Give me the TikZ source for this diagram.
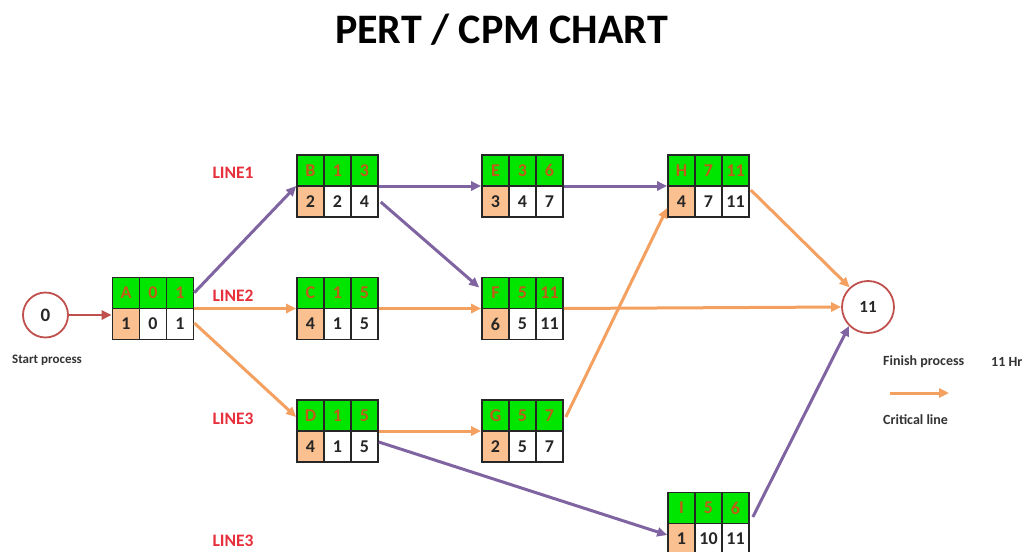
\documentclass[tikz,border=0pt]{standalone}
\usepackage{fontspec}
\setmainfont{Carlito}
\usetikzlibrary{arrows.meta}
\definecolor{pgreen}{HTML}{00E600}
\definecolor{peach}{HTML}{FAC090}
\definecolor{toptext}{HTML}{C25A1A}
\definecolor{orng}{HTML}{F4A060}
\definecolor{purp}{HTML}{8064A2}
\definecolor{dred}{HTML}{C0504D}
\definecolor{linered}{HTML}{E8303C}
\definecolor{txtgray}{HTML}{333333}
\tikzset{
  cell/.style={draw=black!85, line width=1.4pt, minimum width=27pt, minimum height=31pt, inner sep=0pt,
    font=\bfseries\fontsize{18}{18}\selectfont},
  celltop/.style={cell, fill=pgreen, text=toptext},
  cellpeach/.style={cell, fill=peach, text=black!85},
  cellwhite/.style={cell, fill=white, text=black!85},
  outerbox/.style={draw=black!85, line width=1.6pt, minimum width=81pt, minimum height=62pt, inner sep=0pt},
  evt/.style={circle, draw=dred, line width=1.8pt, fill=white, inner sep=0pt, text=black!85},
  crit/.style={draw=orng, line width=3pt, -{Triangle[length=10pt,width=9pt]}},
  noncrit/.style={draw=purp, line width=3pt, -{Triangle[length=10pt,width=9pt]}},
  startarrow/.style={draw=dred, line width=2.5pt, -{Triangle[length=10pt,width=9pt]}},
  linelabel/.style={text=linered, font=\bfseries\fontsize{17.5}{17.5}\selectfont},
  smalllabel/.style={text=txtgray, font=\bfseries\fontsize{14}{14}\selectfont, inner sep=0pt},
}
\newcommand\pertbox[9]{%
  \node[celltop] (#1-a) at (#2-27,#3-15.5) {#4};
  \node[celltop] (#1-b) at (#2,#3-15.5) {#5};
  \node[celltop] (#1-c) at (#2+27,#3-15.5) {#6};
  \node[cellpeach] (#1-d) at (#2-27,#3+15.5) {#7};
  \node[cellwhite] (#1-e) at (#2,#3+15.5) {#8};
  \node[cellwhite] (#1-f) at (#2+27,#3+15.5) {#9};
  \node[outerbox] (#1) at (#2,#3) {};
}
\begin{document}
\begin{tikzpicture}[x=1pt,y=-1pt]
\useasboundingbox[fill=white] (0,0) rectangle (1024,551);
\node[font=\bfseries\fontsize{42}{42}\selectfont, text=black] (title) at (501.5,30) {PERT / CPM CHART};

\pertbox{A}{153}{308.5}{A}{0}{1}{1}{0}{1}
\pertbox{B}{337.5}{186}{B}{1}{3}{2}{2}{4}
\pertbox{C}{337.5}{308.5}{C}{1}{5}{4}{1}{5}
\pertbox{D}{337.5}{431}{D}{1}{5}{4}{1}{5}
\pertbox{E}{522.5}{186}{E}{3}{6}{3}{4}{7}
\pertbox{F}{522.5}{308.5}{F}{5}{11}{6}{5}{11}
\pertbox{G}{522.5}{431}{G}{5}{7}{2}{5}{7}
\pertbox{H}{708.5}{186}{H}{7}{11}{4}{7}{11}
\pertbox{I}{708.5}{523.5}{I}{5}{6}{1}{10}{11}

\node[evt, minimum size=45pt, font=\bfseries\fontsize{19}{19}\selectfont] (s0) at (45.5,315) {0};
\node[evt, minimum size=52pt, font=\bfseries\fontsize{17}{17}\selectfont] (s11) at (868,307) {11};

\node[linelabel] (l1) at (233,173) {LINE1};
\node[linelabel] (l2) at (233,296) {LINE2};
\node[linelabel] (l3) at (233,419) {LINE3};
\node[linelabel] (l4) at (233,541) {LINE3};

\node[smalllabel, font=\bfseries\fontsize{13}{13}\selectfont] (startlbl) at (47,360) {Start process};
\node[smalllabel, anchor=west] (finlbl) at (883,362) {Finish process};
\node[smalllabel, anchor=west] (hrlbl) at (991,362) {11 Hr};
\node[smalllabel, anchor=west] (critlbl) at (883,420) {Critical line};
\coordinate (cl1) at (890,393);
\coordinate (cl2) at (949,393);
\draw[crit] (cl1) -- (cl2);

% connectors
\draw[startarrow] (s0.east) -- (s0.east -| A.west);
\draw[noncrit] ([yshift=-16pt]A.north east) -- (B.west);
\draw[crit] (A.east) -- (C.west);
\draw[crit] ([yshift=-14.5pt]A.east) -- ([yshift=14pt]D.west);
\draw[noncrit] (B.east) -- (E.west);
\draw[noncrit] ([xshift=2pt,yshift=-16pt]B.east) -- ([xshift=-2pt,yshift=21pt]F.west);
\draw[crit] (C.east) -- (F.west);
\draw[crit] (D.east) -- (G.west);
\draw[noncrit] ([yshift=-11pt]D.east) -- ([yshift=-11.5pt]I.west);
\draw[noncrit] (E.east) -- (H.west);
\draw[crit] (F.east) -- (s11.west);
\draw[crit] ([xshift=2pt,yshift=14pt]G.east) -- ([yshift=-22pt]H.west);
\draw[crit] ([xshift=1pt,yshift=-4pt]H.east) -- (s11.133);
\draw[noncrit] ([xshift=3pt,yshift=6.5pt]I.east) -- (s11.225);
\end{tikzpicture}
\end{document}
